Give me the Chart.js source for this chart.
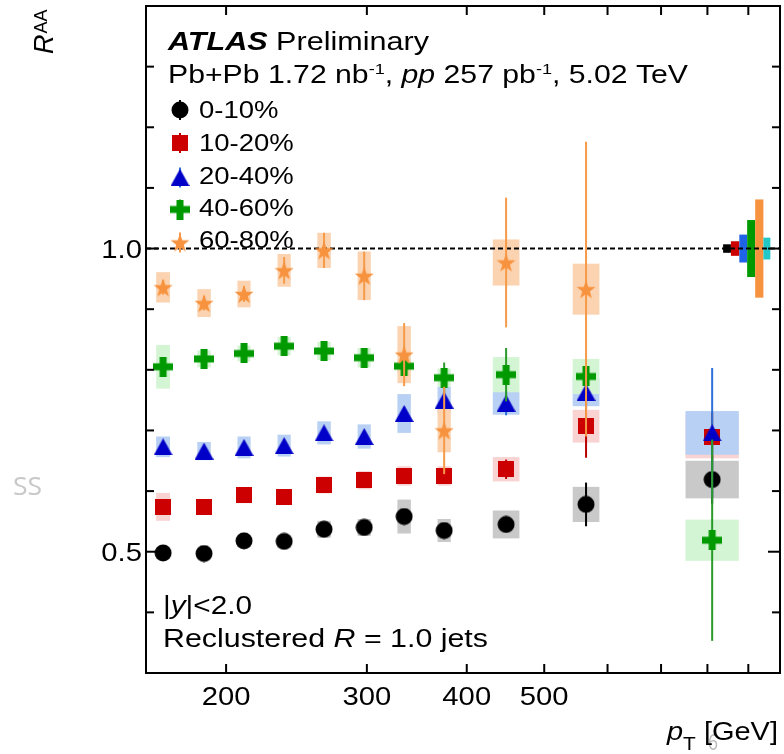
<!DOCTYPE html>
<html><head><meta charset="utf-8">
<script src="https://cdn.jsdelivr.net/npm/chart.js@4/dist/chart.umd.min.js"></script>
<style>html,body{margin:0;padding:0;background:#fff;}canvas{display:block;}</style>
</head><body>
<canvas id="c" width="784" height="754"></canvas>
<script>
// ---------- data ----------
const ptCenters  = [166.8, 187.7, 210.6, 236.4, 265.2, 297.7, 334, 374.8, 448, 564, 811];
const ptBinEdges = [158, 178, 200, 224, 251, 282, 316, 355, 398, 501, 631, 1000];
const seriesLabels = ['0-10%', '10-20%', '20-40%', '40-60%', '60-80%'];

const raa0_10  = [0.498, 0.497, 0.518, 0.517, 0.537, 0.540, 0.558, 0.535, 0.545, 0.578, 0.619];
const stat0_10 = [0.005, 0.005, 0.006, 0.006, 0.007, 0.008, 0.009, 0.010, 0.013, 0.036, 0.040];
const sys0_10  = [0.010, 0.009, 0.010, 0.010, 0.014, 0.014, 0.028, 0.019, 0.023, 0.029, 0.031];

const raa10_20  = [0.574, 0.573, 0.593, 0.590, 0.610, 0.618, 0.625, 0.625, 0.636, 0.707, 0.690];
const stat10_20 = [0.005, 0.005, 0.006, 0.006, 0.007, 0.008, 0.009, 0.012, 0.016, 0.052, 0.040];
const sys10_20  = [0.023, 0.012, 0.013, 0.013, 0.014, 0.015, 0.016, 0.016, 0.020, 0.027, 0.036];

const raa20_40  = [0.673, 0.666, 0.672, 0.675, 0.696, 0.690, 0.728, 0.750, 0.745, 0.763, 0.696];
const stat20_40 = [0.005, 0.005, 0.006, 0.006, 0.007, 0.008, 0.010, 0.012, 0.020, 0.025, 0.107];
const sys20_40  = [0.017, 0.015, 0.018, 0.018, 0.019, 0.020, 0.032, 0.022, 0.019, 0.023, 0.036];

const raa40_60  = [0.805, 0.818, 0.827, 0.839, 0.831, 0.820, 0.806, 0.787, 0.792, 0.789, 0.519];
const stat40_60 = [0.005, 0.005, 0.006, 0.006, 0.007, 0.008, 0.010, 0.025, 0.044, 0.015, 0.166];
const sys40_60  = [0.036, 0.014, 0.013, 0.015, 0.015, 0.016, 0.012, 0.015, 0.029, 0.029, 0.034];

const raa60_80  = [0.936, 0.910, 0.925, 0.964, 0.997, 0.955, 0.825, 0.700, 0.977, 0.933, null];
const stat60_80 = [0.012, 0.012, 0.013, 0.022, 0.029, 0.040, 0.052, 0.072, 0.107, 0.243, null];
const sys60_80  = [0.025, 0.023, 0.022, 0.027, 0.029, 0.040, 0.047, 0.036, 0.038, 0.042, null];

// normalisation uncertainties at R_AA = 1 (0-10, 10-20, 20-40, 40-60, 60-80, pp lumi)
const normUnc   = [0.007, 0.012, 0.023, 0.047, 0.081, 0.018];
const normEdges = [837, 856, 877, 897, 918, 940, 959];

const xTickValues = [200, 300, 400, 500, 600, 700, 800, 900];
const xTickLabels = ['200', '300', '400', '500', '', '', '', ''];
const yTickValues = [0.4, 0.5, 0.6, 0.7, 0.8, 0.9, 1.0, 1.1, 1.2, 1.3];
const yTickLabels = ['', '0.5', '', '', '', '', '1.0', '', '', ''];

// ---------- markers ----------
function mk(w, h, draw) { const c = document.createElement('canvas'); c.width = w; c.height = h; const g = c.getContext('2d'); draw(g, w, h); return c; }
const mCircle = col => mk(18, 18, g => { g.fillStyle = col; g.beginPath(); g.arc(9, 9, 8.5, 0, 2 * Math.PI); g.fill(); });
const mSquare = col => mk(16, 16, g => { g.fillStyle = col; g.fillRect(0, 0, 16, 16); });
const mTri = col => mk(19, 17, g => { g.fillStyle = col; g.beginPath(); g.moveTo(9.5, 0); g.lineTo(19, 17); g.lineTo(0, 17); g.closePath(); g.fill(); });
const mPlus = col => mk(20, 20, g => { g.fillStyle = col; g.fillRect(0, 6.5, 20, 7); g.fillRect(6.5, 0, 7, 20); });
const mStar = col => mk(20, 20, g => {
  g.fillStyle = col; g.beginPath();
  for (let k = 0; k < 10; k++) { const a = -Math.PI / 2 + k * Math.PI / 5; const r = k % 2 ? 4.0 : 10; g.lineTo(10 + r * Math.cos(a), 10.95 + r * Math.sin(a)); }
  g.closePath(); g.fill();
});

const series = [
  { vals: raa0_10,  stat: stat0_10,  sys: sys0_10,  marker: mCircle('#000000'), err: '#000000', box: '#c9c9c9' },
  { vals: raa10_20, stat: stat10_20, sys: sys10_20, marker: mSquare('#cc0000'), err: '#b80000', box: '#f9d2d2' },
  { vals: raa20_40, stat: stat20_40, sys: sys20_40, marker: mTri('#0000c8'),    err: '#2d70d8', box: '#b7d0f3' },
  { vals: raa40_60, stat: stat40_60, sys: sys40_60, marker: mPlus('#009a00'),   err: '#2a9a2a', box: '#d4f5d4' },
  { vals: raa60_80, stat: stat60_80, sys: sys60_80, marker: mStar('#f7933f'),   err: '#f59a48', box: '#fbd3b0' }
];
const normColors = ['#000000', '#cc0000', '#1f63e6', '#009a00', '#f7933f', '#22c7c7'];

// ---------- text helper ----------
function rich(ctx, segs, x, y, targetW, align, color) {
  ctx.save();
  ctx.fillStyle = color || '#000';
  ctx.textBaseline = 'alphabetic';
  let w = 0;
  segs.forEach(s => { ctx.font = s.f; s.w = ctx.measureText(s.t).width; w += s.w; });
  const sx = targetW ? targetW / w : 1.17;
  const tw = w * sx;
  const x0 = align === 'right' ? x - tw : align === 'center' ? x - tw / 2 : x;
  ctx.translate(x0, y); ctx.scale(sx, 1);
  let cx = 0;
  segs.forEach(s => { ctx.font = s.f; ctx.fillText(s.t, cx, s.dy || 0); cx += s.w; });
  ctx.restore();
}
const F = 'Liberation Sans, Arial, Helvetica, sans-serif';

const rootPlugin = {
  id: 'rootStyle',
  beforeDatasetsDraw(chart) {
    const { ctx, chartArea: a, scales: { x, y } } = chart;
    ctx.save();
    ctx.beginPath(); ctx.rect(a.left, a.top, a.right - a.left, a.bottom - a.top); ctx.clip();
    series.forEach(s => {
      ctx.fillStyle = s.box;
      s.vals.forEach((v, i) => {
        if (v == null) return;
        const lw = Math.log(ptBinEdges[i + 1] / ptBinEdges[i]) / 6;
        const xl = x.getPixelForValue(ptCenters[i] * Math.exp(-lw));
        const xr = x.getPixelForValue(ptCenters[i] * Math.exp(lw));
        const yt = y.getPixelForValue(v + s.sys[i]);
        const yb = y.getPixelForValue(v - s.sys[i]);
        ctx.fillRect(xl, yt, xr - xl, yb - yt);
      });
    });
    normUnc.forEach((u, k) => {
      ctx.fillStyle = normColors[k];
      const xl = x.getPixelForValue(normEdges[k]), xr = x.getPixelForValue(normEdges[k + 1]);
      const yt = y.getPixelForValue(1 + u), yb = y.getPixelForValue(1 - u);
      ctx.fillRect(xl, yt, xr - xl, yb - yt);
    });
    ctx.strokeStyle = '#000'; ctx.lineWidth = 2; ctx.setLineDash([5, 3]);
    const y1 = y.getPixelForValue(1.0);
    ctx.beginPath(); ctx.moveTo(a.left, y1); ctx.lineTo(a.right, y1); ctx.stroke();
    ctx.restore();
  },
  beforeDatasetDraw(chart, args) {
    const { ctx, chartArea: a, scales: { x, y } } = chart;
    const s = series[args.index];
    ctx.save();
    ctx.beginPath(); ctx.rect(a.left, a.top, a.right - a.left, a.bottom - a.top); ctx.clip();
    ctx.strokeStyle = s.err; ctx.lineWidth = 2;
    s.vals.forEach((v, i) => {
      if (v == null) return;
      const px = x.getPixelForValue(ptCenters[i]);
      ctx.beginPath();
      ctx.moveTo(px, y.getPixelForValue(v + s.stat[i]));
      ctx.lineTo(px, y.getPixelForValue(v - s.stat[i]));
      ctx.stroke();
    });
    ctx.restore();
  },
  afterDraw(chart) {
    const { ctx, chartArea: a, scales: { x, y } } = chart;
    ctx.save();
    ctx.strokeStyle = '#000'; ctx.lineWidth = 2; ctx.setLineDash([]);
    const line = (x1, y1, x2, y2) => { ctx.beginPath(); ctx.moveTo(x1, y1); ctx.lineTo(x2, y2); ctx.stroke(); };
    xTickValues.forEach(v => { const px = x.getPixelForValue(v); line(px, a.bottom, px, a.bottom - 9); line(px, a.top, px, a.top + 9); });
    yTickValues.forEach((v, i) => { const py = y.getPixelForValue(v); const L = yTickLabels[i] ? 12 : 8; line(a.left, py, a.left + L, py); line(a.right, py, a.right - L, py); });
    ctx.strokeRect(a.left, a.top, a.right - a.left, a.bottom - a.top);
    // tick labels
    xTickValues.forEach((v, i) => { if (xTickLabels[i]) rich(ctx, [{ t: xTickLabels[i], f: '25px ' + F }], x.getPixelForValue(v), 705, null, 'center'); });
    yTickValues.forEach((v, i) => { if (yTickLabels[i]) rich(ctx, [{ t: yTickLabels[i], f: '25px ' + F }], 142, y.getPixelForValue(v) + 9, null, 'right'); });
    // header text
    rich(ctx, [{ t: 'ATLAS', f: 'italic bold 25px ' + F }, { t: ' Preliminary', f: '25px ' + F }], 168, 50, 261);
    rich(ctx, [
      { t: 'Pb+Pb 1.72 nb', f: '25px ' + F }, { t: '-1', f: '15px ' + F, dy: -9 },
      { t: ', ', f: '25px ' + F }, { t: 'pp', f: 'italic 25px ' + F },
      { t: ' 257 pb', f: '25px ' + F }, { t: '-1', f: '15px ' + F, dy: -9 },
      { t: ', 5.02 TeV', f: '25px ' + F }], 168, 83, 520);
    // legend
    const legY = [110, 143, 177.5, 209.5, 242.5];
    const legB = [118, 151, 184, 215.5, 248];
    series.forEach((s, k) => {
      ctx.strokeStyle = s.err; ctx.lineWidth = 2;
      line(180, legY[k] - 10, 180, legY[k] + 10);
      ctx.drawImage(s.marker, 180 - s.marker.width / 2, legY[k] - s.marker.height / 2);
      rich(ctx, [{ t: seriesLabels[k], f: '23.5px ' + F }], 199, legB[k], null, 'left');
    });
    // bottom-left text
    rich(ctx, [{ t: '|', f: '25px ' + F }, { t: 'y', f: 'italic 25px ' + F }, { t: '|<2.0', f: '25px ' + F }], 163, 614, 89);
    rich(ctx, [{ t: 'Reclustered ', f: '25px ' + F }, { t: 'R', f: 'italic 25px ' + F }, { t: ' = 1.0 jets', f: '25px ' + F }], 163, 646.5, 325);
    // slide artefacts
    rich(ctx, [{ t: 'SS', f: '25px Open Sans, sans-serif' }], 13, 495, 29, 'left', '#c8c8c8');
    rich(ctx, [{ t: '6', f: '22px Open Sans, sans-serif' }], 708, 750, 10, 'left', '#b8b8b8');
    // axis titles
    rich(ctx, [{ t: 'p', f: 'italic 25px ' + F }, { t: 'T', f: '18px ' + F, dy: 10 }, { t: ' [GeV]', f: '25px ' + F }], 778, 740, 111, 'right');
    ctx.save();
    ctx.translate(53, 54); ctx.rotate(-Math.PI / 2);
    ctx.fillStyle = '#000';
    ctx.font = 'italic 27px ' + F; ctx.fillText('R', 0, 0);
    const rw = ctx.measureText('R').width;
    ctx.font = '18px ' + F; ctx.fillText('AA', rw + 1, -6);
    ctx.restore();
    ctx.restore();
  }
};

const datasets = series.map((s, k) => ({
  label: seriesLabels[k],
  data: ptCenters.map((p, i) => ({ x: p, y: s.vals[i] })).filter(d => d.y != null),
  pointStyle: s.marker,
  pointRadius: 9,
  order: series.length - k,
  clip: false
}));

new Chart(document.getElementById('c'), {
  type: 'scatter',
  data: { datasets },
  options: {
    responsive: false, animation: false, devicePixelRatio: 1, events: [],
    layout: { autoPadding: false, padding: { left: 146, right: 4, top: 6, bottom: 81 } },
    plugins: { legend: { display: false }, tooltip: { enabled: false } },
    scales: {
      x: { type: 'logarithmic', min: 158.8, max: 986, display: false },
      y: { type: 'linear', min: 0.3, max: 1.4, display: false }
    }
  },
  plugins: [rootPlugin]
});
</script>
</body></html>
